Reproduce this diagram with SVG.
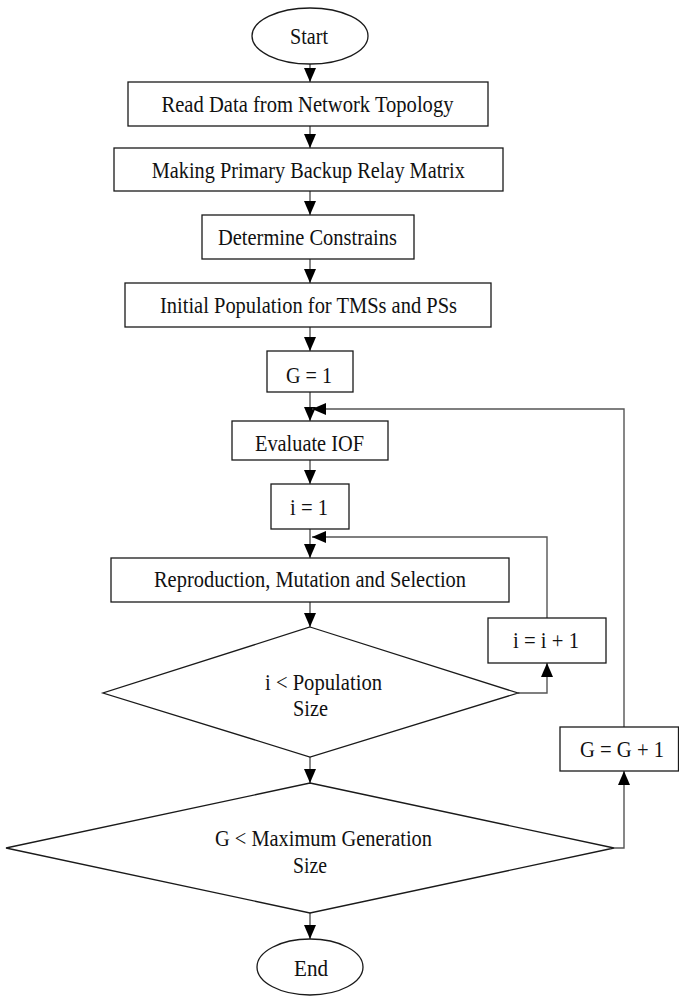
<svg xmlns="http://www.w3.org/2000/svg" width="679" height="996" viewBox="0 0 679 996">
<style>
.n{fill:#fff;stroke:#1a1a1a;stroke-width:1.3}
.t{font-family:"Liberation Serif","Times New Roman",serif;font-size:22.5px;fill:#111;text-anchor:middle}
.c{fill:none;stroke:#555;stroke-width:1.4}
</style>
<defs>
<marker id="ah" markerUnits="userSpaceOnUse" markerWidth="14" markerHeight="12" viewBox="0 0 14 12" refX="14" refY="6" orient="auto">
<path d="M0,0 L14,6 L0,12 Z" fill="#000"/>
</marker>
</defs>
<rect width="679" height="996" fill="#fff"/>
<g id="connectors">
<path class="c" d="M310,64 V82" marker-end="url(#ah)"/>
<path class="c" d="M310,126 V148" marker-end="url(#ah)"/>
<path class="c" d="M310,191 V215" marker-end="url(#ah)"/>
<path class="c" d="M310,259 V283" marker-end="url(#ah)"/>
<path class="c" d="M310,327 V351" marker-end="url(#ah)"/>
<path class="c" d="M310,392 V421" marker-end="url(#ah)"/>
<path class="c" d="M310,460 V484" marker-end="url(#ah)"/>
<path class="c" d="M310,529 V558" marker-end="url(#ah)"/>
<path class="c" d="M310,602 V627" marker-end="url(#ah)"/>
<path class="c" d="M310,757 V783" marker-end="url(#ah)"/>
<path class="c" d="M310,913 V939" marker-end="url(#ah)"/>
<path class="c" d="M518,693 H547 V663" marker-end="url(#ah)"/>
<path class="c" d="M547,618 V537 H312" marker-end="url(#ah)"/>
<path class="c" d="M614,848 H624 V771" marker-end="url(#ah)"/>
<path class="c" d="M624,727 V409 H312" marker-end="url(#ah)"/>
</g>
<g id="start"><ellipse class="n" cx="310" cy="36" rx="58" ry="28"/><text class="t" x="309" y="44" textLength="38" lengthAdjust="spacingAndGlyphs">Start</text></g>
<g id="read"><rect class="n" x="128" y="82" width="360" height="44"/><text class="t" x="307.5" y="112" textLength="292" lengthAdjust="spacingAndGlyphs">Read Data from Network Topology</text></g>
<g id="making"><rect class="n" x="114" y="148" width="389" height="43"/><text class="t" x="308.3" y="178" textLength="313" lengthAdjust="spacingAndGlyphs">Making Primary Backup Relay Matrix</text></g>
<g id="determine"><rect class="n" x="202" y="215" width="212" height="44"/><text class="t" x="307.5" y="245" textLength="179" lengthAdjust="spacingAndGlyphs">Determine Constrains</text></g>
<g id="initial"><rect class="n" x="125" y="283" width="366" height="44"/><text class="t" x="308.5" y="313" textLength="297" lengthAdjust="spacingAndGlyphs">Initial Population for TMSs and PSs</text></g>
<g id="g1"><rect class="n" x="267" y="351" width="86" height="41"/><text class="t" x="309" y="383" textLength="46" lengthAdjust="spacingAndGlyphs">G = 1</text></g>
<g id="evaluate"><rect class="n" x="232" y="421" width="156" height="39"/><text class="t" x="309.5" y="451" textLength="109" lengthAdjust="spacingAndGlyphs">Evaluate IOF</text></g>
<g id="i1"><rect class="n" x="271" y="484" width="78" height="45"/><text class="t" x="309" y="515" textLength="38" lengthAdjust="spacingAndGlyphs">i = 1</text></g>
<g id="repro"><rect class="n" x="111" y="558" width="398" height="44"/><text class="t" x="310" y="587" textLength="312" lengthAdjust="spacingAndGlyphs">Reproduction, Mutation and Selection</text></g>
<g id="inc-i"><rect class="n" x="488" y="618" width="118" height="45"/><text class="t" x="546" y="648" textLength="66" lengthAdjust="spacingAndGlyphs">i = i + 1</text></g>
<g id="dec-pop"><path class="n" d="M310,627 L518,693 L310,757 L103,693 Z"/><text class="t" x="323.5" y="690" textLength="117" lengthAdjust="spacingAndGlyphs">i &lt; Population</text><text class="t" x="310.5" y="716" textLength="35" lengthAdjust="spacingAndGlyphs">Size</text></g>
<g id="inc-g"><rect class="n" x="560" y="727" width="118.5" height="44"/><text class="t" x="622" y="757" textLength="84" lengthAdjust="spacingAndGlyphs">G = G + 1</text></g>
<g id="dec-gen"><path class="n" d="M310,783 L614,848 L310,913 L6,848 Z"/><text class="t" x="323.5" y="846" textLength="217" lengthAdjust="spacingAndGlyphs">G &lt; Maximum Generation</text><text class="t" x="310" y="873" textLength="34" lengthAdjust="spacingAndGlyphs">Size</text></g>
<g id="end"><ellipse class="n" cx="310" cy="967" rx="53" ry="28"/><text class="t" x="311" y="976" textLength="34" lengthAdjust="spacingAndGlyphs">End</text></g>
</svg>
